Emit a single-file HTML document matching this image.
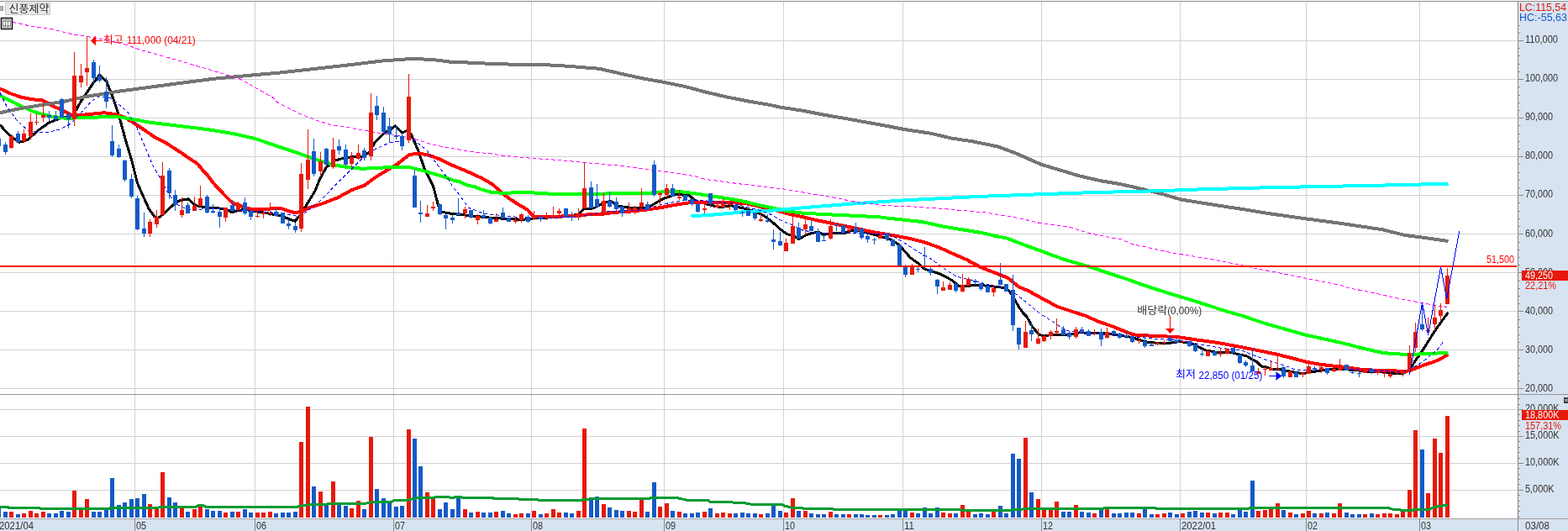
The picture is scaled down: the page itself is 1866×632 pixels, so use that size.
<!DOCTYPE html>
<html lang="ko"><head><meta charset="utf-8"><title>신풍제약 chart</title>
<style>html,body{margin:0;padding:0;background:#fff;overflow:hidden}svg text{font-family:"Liberation Sans","Noto Sans CJK KR",sans-serif}</style>
</head><body>
<svg width="1866" height="632" viewBox="0 0 1866 632" style="display:block;will-change:transform">
<rect width="1866" height="632" fill="#ffffff"/>
<path d="M0 462.5H1805M0 416.5H1805M0 370.5H1805M0 324.5H1805M0 278.5H1805M0 232.5H1805M0 186.5H1805M0 140.5H1805M0 94.5H1805M0 48.5H1805M0 583.5H1805M0 551.5H1805M0 519.5H1805M0 487.5H1805M160.5 2V617M303.5 2V617M468.5 2V617M632.5 2V617M790.5 2V617M932.5 2V617M1074.5 2V617M1239.5 2V617M1404.5 2V617M1554.5 2V617M1689.5 2V617" stroke="#d2d2d2" stroke-width="1" fill="none" shape-rendering="crispEdges"/>
<rect x="1807" y="2" width="59" height="630" fill="#d8e3f1"/>
<rect x="0" y="618" width="1866" height="14" fill="#d8e3f1"/>
<rect x="0" y="1" width="1866" height="1" fill="#8e8e8e"/>
<rect x="0" y="469" width="1866" height="1" fill="#969696"/>
<rect x="0" y="617" width="1866" height="1" fill="#a2a2a2"/>
<rect x="1806" y="2" width="1" height="630" fill="#888888"/>
<path d="M1807 462.5h6M1807 453.5h2M1807 444.5h2M1807 435.5h2M1807 426.5h2M1807 416.5h6M1807 407.5h2M1807 398.5h2M1807 389.5h2M1807 380.5h2M1807 370.5h6M1807 361.5h2M1807 352.5h2M1807 343.5h2M1807 334.5h2M1807 324.5h6M1807 315.5h2M1807 306.5h2M1807 297.5h2M1807 288.5h2M1807 278.5h6M1807 269.5h2M1807 260.5h2M1807 251.5h2M1807 241.5h2M1807 232.5h6M1807 223.5h2M1807 214.5h2M1807 205.5h2M1807 195.5h2M1807 186.5h6M1807 177.5h2M1807 168.5h2M1807 159.5h2M1807 149.5h2M1807 140.5h6M1807 131.5h2M1807 122.5h2M1807 113.5h2M1807 103.5h2M1807 94.5h6M1807 85.5h2M1807 76.5h2M1807 66.5h2M1807 57.5h2M1807 48.5h6M1807 39.5h2M1807 30.5h2M1807 615.5h2M1807 608.5h2M1807 602.5h2M1807 596.5h2M1807 589.5h2M1807 583.5h6M1807 576.5h2M1807 570.5h2M1807 564.5h2M1807 557.5h2M1807 551.5h6M1807 545.5h2M1807 538.5h2M1807 532.5h2M1807 525.5h2M1807 519.5h6M1807 513.5h2M1807 506.5h2M1807 500.5h2M1807 493.5h2M1807 487.5h6M1807 481.5h2M1807 474.5h2M160.5 617V632M303.5 617V632M468.5 617V632M632.5 617V632M790.5 617V632M932.5 617V632M1074.5 617V632M1239.5 617V632M1404.5 617V632M1554.5 617V632M1689.5 617V632" stroke="#888888" stroke-width="1" fill="none" shape-rendering="crispEdges"/>
<g shape-rendering="crispEdges">
<polyline points="0.0,148.6 10.1,160.0 22.8,169.4 32.9,166.4 45.6,155.0 58.2,146.1 70.9,141.0 83.6,138.5 88.6,134.7 96.2,120.8 108.9,101.8 118.5,89.1 126.6,96.7 134.2,115.7 141.8,138.5 149.4,166.4 157.0,191.7 163.7,218.4 170.4,233.5 177.2,248.6 183.9,257.9 188.1,259.5 193.9,255.3 207.3,242.8 214.1,238.6 224.1,236.9 232.5,244.4 242.6,246.6 259.3,247.8 267.7,249.0 276.1,252.8 284.5,250.3 292.9,249.5 301.3,251.2 318.0,253.7 334.8,257.0 343.2,260.4 350.8,263.4 356.6,257.0 365.0,243.6 375.1,226.8 380.3,213.9 387.7,200.0 397.1,191.6 409.5,187.9 422.2,186.4 432.5,186.0 439.5,181.0 446.5,168.8 455.8,159.5 464.2,154.4 470.5,149.8 478.7,158.2 484.8,155.2 489.5,160.3 497.8,179.6 505.6,202.0 515.5,221.5 521.9,245.8 525.3,252.1 538.7,254.6 555.5,256.3 572.2,258.0 589.0,259.7 605.8,260.5 622.6,261.3 636.0,259.7 656.1,258.8 672.9,257.2 688.0,255.5 694.7,248.8 706.4,247.9 718.2,241.7 726.6,239.5 736.6,245.4 748.4,247.1 765.1,247.9 775.2,244.6 785.3,238.7 790.1,236.1 805.2,231.2 820.3,232.9 828.7,239.4 845.5,244.2 857.2,246.6 870.6,244.8 884.1,247.8 897.5,251.5 909.2,256.8 917.6,262.9 927.7,272.1 936.1,278.6 944.4,280.2 950.3,284.7 957.9,280.5 965.5,277.5 974.6,276.3 979.7,279.2 991.4,277.5 1004.8,277.6 1013.2,274.6 1018.8,273.3 1027.0,275.9 1038.4,278.8 1048.0,281.3 1061.2,285.5 1070.5,292.0 1083.5,306.9 1092.2,313.0 1100.0,320.0 1108.7,322.8 1119.8,326.5 1132.0,333.0 1142.0,340.8 1150.6,340.4 1162.3,339.3 1177.5,340.4 1187.0,341.5 1195.0,342.5 1201.0,346.3 1206.5,354.5 1212.5,365.5 1217.6,372.5 1221.9,376.9 1228.3,388.5 1236.1,397.9 1240.3,399.5 1257.1,398.4 1270.7,398.2 1285.0,395.8 1300.0,396.4 1315.8,397.0 1329.5,398.6 1347.3,401.5 1362.8,406.8 1378.4,408.5 1391.3,408.4 1402.0,406.8 1411.4,407.1 1418.0,408.8 1424.8,412.1 1434.8,416.9 1448.3,419.4 1465.0,419.5 1477.2,422.5 1483.4,423.6 1489.5,427.5 1495.2,430.3 1501.6,436.4 1506.9,437.0 1514.0,439.5 1524.5,440.0 1539.5,443.0 1550.5,444.6 1561.5,442.6 1579.4,440.0 1597.9,439.0 1609.2,440.7 1617.8,441.0 1629.3,442.4 1643.1,442.8 1654.5,444.1 1671.0,444.1 1678.0,440.0 1683.7,430.2 1691.6,419.1 1699.6,406.5 1707.5,393.8 1715.4,382.7 1723.5,372.0" fill="none" stroke="#000000" stroke-width="3" stroke-linejoin="round"/>
<polyline points="0.0,105.6 12.7,111.4 25.3,115.7 38.0,118.2 50.6,119.5 63.3,126.3 76.0,132.2 86.1,137.2 101.3,136.5 114.0,135.2 124.1,134.2 136.7,136.0 146.9,139.0 157.0,144.8 172.2,155.0 184.9,163.8 197.5,170.2 215.2,181.5 227.9,190.4 234.8,194.6 240.6,201.8 247.0,208.5 254.3,218.4 267.7,232.7 276.1,241.1 284.5,244.4 292.9,247.8 301.3,249.1 318.0,248.6 334.8,248.1 343.2,251.2 351.6,253.3 360.0,251.2 368.4,247.0 385.1,241.9 401.9,235.2 418.9,226.0 434.0,220.6 447.4,210.6 460.8,202.4 472.6,195.6 481.0,188.8 487.2,184.0 497.2,182.8 508.2,184.0 522.2,189.0 539.0,197.0 556.0,204.1 572.7,211.7 586.0,219.3 597.4,229.5 605.8,236.2 617.5,243.7 627.6,249.6 635.1,258.0 649.0,258.0 664.5,257.7 681.3,256.9 698.0,255.5 714.8,255.0 731.6,252.8 748.4,251.8 765.1,250.1 777.0,248.5 786.8,247.0 803.5,243.8 820.3,241.3 837.1,240.7 853.9,240.8 870.6,241.1 887.4,242.0 904.2,246.0 921.0,249.5 937.7,254.5 954.5,258.0 971.3,262.1 988.0,265.4 1004.8,268.9 1021.6,272.5 1038.4,276.1 1055.1,278.8 1066.8,280.9 1083.5,284.1 1100.3,288.4 1117.1,294.3 1133.9,301.9 1150.6,309.2 1167.4,318.3 1184.2,324.7 1199.5,330.8 1212.7,341.6 1223.5,346.0 1237.0,353.5 1258.0,364.8 1273.9,370.2 1291.0,375.5 1307.4,382.8 1324.2,388.6 1341.0,395.4 1349.3,398.4 1374.5,400.0 1399.7,400.9 1424.8,404.6 1441.6,406.8 1458.4,409.6 1475.1,412.7 1489.0,415.5 1503.7,418.5 1520.3,421.9 1537.1,426.1 1553.9,430.6 1570.6,433.7 1587.4,435.7 1604.5,437.6 1621.0,440.0 1637.7,440.7 1654.5,441.2 1671.0,441.9 1678.0,441.2 1688.0,437.0 1696.0,434.0 1704.8,431.2 1713.2,427.8 1723.5,421.7" fill="none" stroke="#ff0000" stroke-width="4" stroke-linejoin="round"/>
<polyline points="0.0,113.7 12.7,120.0 25.3,126.3 38.0,132.2 50.6,136.0 63.3,139.0 76.0,140.5 88.6,140.5 114.0,139.8 126.6,138.5 141.8,139.3 152.0,141.0 164.6,143.1 177.3,145.6 202.6,148.6 227.9,151.7 253.2,155.0 278.6,159.3 303.9,165.1 330.0,174.0 346.8,179.5 363.5,185.4 380.3,191.0 397.1,196.2 413.9,199.2 430.6,200.7 447.4,200.2 464.2,198.9 480.0,199.1 486.0,198.7 497.9,201.8 505.2,203.5 514.5,206.4 521.9,208.5 531.3,211.4 538.7,214.4 548.0,216.6 555.5,220.3 564.8,222.3 572.2,225.3 584.0,228.6 597.4,229.8 622.6,229.1 632.6,229.2 647.7,230.4 681.3,231.3 714.8,230.6 748.4,230.1 770.0,230.0 786.8,228.5 803.5,227.5 820.3,229.4 837.1,231.9 853.9,234.4 870.6,236.9 887.4,240.3 904.2,244.3 921.0,247.8 937.7,251.5 954.5,253.6 988.0,255.4 1021.6,257.0 1046.6,258.3 1055.1,259.5 1082.0,262.4 1097.3,264.0 1122.1,269.5 1150.6,274.2 1173.2,278.0 1184.2,280.9 1197.6,283.4 1217.7,291.0 1239.5,299.0 1268.0,309.4 1293.2,316.5 1318.4,324.8 1343.5,333.0 1362.0,339.8 1391.3,349.2 1424.8,359.3 1458.4,370.2 1478.6,375.9 1502.0,383.9 1520.3,389.2 1553.9,398.7 1587.4,406.0 1605.2,410.2 1621.0,414.4 1646.1,420.1 1671.3,421.9 1696.4,421.3 1707.5,420.7 1723.5,419.5" fill="none" stroke="#00ff00" stroke-width="4" stroke-linejoin="round"/>
<polyline points="0.0,134.2 25.3,128.9 50.6,124.8 76.0,120.8 101.3,115.2 121.5,111.9 141.8,108.6 160.8,106.1 202.6,100.5 253.2,93.9 303.9,89.1 330.0,86.8 354.5,84.1 405.2,78.5 455.8,72.4 460.0,72.2 475.2,70.9 492.9,69.9 515.7,71.1 536.0,73.7 561.3,74.7 586.6,76.0 611.9,76.7 649.9,77.2 675.2,78.7 713.2,81.8 738.6,87.6 763.9,93.2 789.2,97.7 814.5,102.8 839.8,109.6 865.2,115.5 890.5,120.5 915.8,124.8 930.0,127.9 955.3,131.7 980.6,136.7 1006.0,141.0 1031.3,145.6 1056.6,150.1 1074.3,153.7 1107.3,158.7 1132.6,164.6 1157.9,168.4 1188.3,174.7 1208.6,182.3 1238.9,195.7 1259.2,201.8 1284.5,209.4 1309.8,215.2 1335.2,219.5 1360.5,225.3 1385.8,231.7 1405.3,237.5 1443.3,243.6 1481.3,249.4 1511.7,254.4 1557.3,260.8 1595.2,265.8 1620.6,269.6 1645.9,273.4 1671.2,279.8 1696.5,283.1 1723.5,287.0" fill="none" stroke="#747474" stroke-width="4" stroke-linejoin="round"/>
<polyline points="822.5,257.4 853.9,255.2 887.4,252.0 920.0,250.5 932.4,249.2 970.6,246.0 1021.3,242.0 1074.3,238.5 1122.6,236.0 1173.2,233.6 1238.9,231.2 1299.8,229.1 1380.0,227.2 1430.6,225.3 1506.6,223.3 1582.6,221.8 1658.5,220.3 1723.5,218.7" fill="none" stroke="#00ffff" stroke-width="4" stroke-linejoin="round"/>
<polyline points="15.0,26.3 34.2,30.6 63.3,35.0 88.6,41.4 103.8,43.3 126.6,47.7 146.8,52.2 166.5,59.2 190.0,65.8 215.2,72.8 235.0,78.7 240.6,80.3 265.9,87.9 286.2,94.2 303.9,104.3 324.1,115.7 330.0,121.7 344.4,129.4 361.5,137.6 380.0,144.4 397.1,149.4 409.5,150.9 430.5,154.7 447.4,157.7 460.0,159.2 467.0,160.1 491.0,164.7 514.5,172.0 533.5,176.0 561.8,180.6 586.6,183.2 597.9,185.2 635.0,188.5 664.5,190.4 691.3,193.0 731.6,196.8 738.6,197.1 765.1,201.0 787.1,203.7 808.6,206.7 827.2,209.8 838.5,213.2 870.6,217.6 877.8,218.6 904.2,221.5 924.6,224.4 932.5,224.9 956.2,229.1 990.0,234.6 1013.2,239.4 1021.3,240.9 1046.8,243.9 1073.0,246.0 1082.0,245.6 1122.6,248.5 1173.2,253.0 1211.2,259.4 1239.8,266.0 1272.9,270.4 1297.5,278.0 1325.2,283.4 1335.1,285.1 1348.4,291.0 1362.0,293.5 1382.5,298.3 1390.0,299.9 1402.6,302.2 1443.3,308.9 1481.3,316.5 1496.3,320.0 1519.3,324.1 1529.2,326.3 1555.9,331.5 1579.8,336.5 1595.2,339.3 1605.2,342.8 1631.8,348.0 1657.0,353.7 1670.0,356.7 1689.5,359.9 1707.5,363.4 1721.7,365.3" fill="none" stroke="#ff00ff" stroke-width="1" stroke-linejoin="round" stroke-dasharray="4.5 3"/>
<polyline points="0.0,110.6 7.6,125.8 20.3,143.6 32.9,155.0 45.6,157.5 58.2,157.0 70.9,154.2 83.6,147.4 96.2,134.7 108.9,120.3 119.0,114.4 131.7,117.0 141.8,124.6 151.9,133.4 162.0,149.9 172.2,174.0 182.3,198.0 192.5,214.5 200.0,230.0 210.0,243.0 222.0,249.0 240.0,249.0 260.0,248.5 280.0,250.0 300.0,251.0 320.0,252.5 340.0,255.0 355.0,257.5 365.0,252.0 380.0,240.0 393.7,226.0 405.5,213.9 417.2,202.2 430.6,188.8 447.4,177.0 464.2,169.5 474.2,168.6 491.0,165.3 507.8,178.7 522.4,198.6 533.7,213.5 540.0,224.0 547.1,232.0 557.2,247.1 575.0,254.0 600.0,257.0 640.0,260.0 690.0,258.0 720.0,252.0 760.0,250.0 790.1,242.8 811.9,238.9 837.1,238.6 853.9,240.3 870.6,241.9 887.4,246.1 904.2,250.3 917.6,255.4 929.3,262.1 941.1,267.1 954.5,273.8 971.3,277.2 996.4,278.0 1021.6,277.2 1046.8,278.5 1060.1,279.6 1075.2,288.4 1091.9,299.4 1108.7,308.6 1122.1,318.6 1137.2,328.7 1150.6,332.1 1167.4,336.3 1184.2,341.3 1195.9,342.1 1211.0,351.3 1225.3,363.0 1238.0,373.6 1255.7,384.6 1268.4,393.4 1283.6,396.0 1310.0,398.0 1351.9,401.0 1377.3,403.6 1402.6,404.8 1427.9,409.9 1453.2,414.2 1478.6,417.5 1491.2,422.6 1508.9,428.9 1529.2,435.2 1541.9,440.3 1559.6,441.0 1579.8,439.0 1605.2,439.0 1630.5,441.0 1670.0,442.6 1680.6,438.1 1691.6,431.8 1701.1,423.9 1710.6,415.9 1719.3,404.5" fill="none" stroke="#0000ff" stroke-width="1" stroke-linejoin="round" stroke-dasharray="4 3"/>
</g>
<path d="M11 162h5V176h-5ZM13 160h1V162h-1ZM13 176h1V177h-1ZM26 159h5V168h-5ZM28 154h1V159h-1ZM28 168h1V170h-1ZM34 145h5V162h-5ZM36 135h1V145h-1ZM36 162h1V166h-1ZM41 145h5V146h-5ZM43 135h1V145h-1ZM43 146h1V149h-1ZM49 137h5V140h-5ZM51 122h1V137h-1ZM51 140h1V145h-1ZM86 90h5V142h-5ZM88 62h1V90h-1ZM88 142h1V150h-1ZM94 90h5V98h-5ZM96 76h1V90h-1ZM96 98h1V104h-1ZM101 81h5V86h-5ZM103 43h1V81h-1ZM103 86h1V102h-1ZM176 264h5V278h-5ZM178 261h1V264h-1ZM178 278h1V282h-1ZM184 258h5V267h-5ZM186 250h1V258h-1ZM186 267h1V271h-1ZM191 209h5V256h-5ZM193 193h1V209h-1ZM214 250h5V256h-5ZM216 235h1V250h-1ZM216 256h1V259h-1ZM229 245h5V251h-5ZM231 234h1V245h-1ZM236 236h5V245h-5ZM238 221h1V236h-1ZM266 247h5V259h-5ZM268 259h1V264h-1ZM281 242h5V250h-5ZM283 240h1V242h-1ZM304 257h5V258h-5ZM306 251h1V257h-1ZM306 258h1V259h-1ZM311 253h5V255h-5ZM313 249h1V253h-1ZM313 255h1V260h-1ZM319 253h5V254h-5ZM321 241h1V253h-1ZM321 254h1V257h-1ZM356 207h5V272h-5ZM358 194h1V207h-1ZM358 272h1V276h-1ZM364 190h5V214h-5ZM366 154h1V190h-1ZM366 214h1V225h-1ZM379 192h5V204h-5ZM381 181h1V192h-1ZM381 204h1V210h-1ZM394 178h5V199h-5ZM396 164h1V178h-1ZM396 199h1V201h-1ZM416 187h5V195h-5ZM418 181h1V187h-1ZM418 195h1V199h-1ZM424 182h5V189h-5ZM426 172h1V182h-1ZM426 189h1V190h-1ZM439 134h5V186h-5ZM441 111h1V134h-1ZM441 186h1V191h-1ZM484 115h5V167h-5ZM486 88h1V115h-1ZM486 167h1V170h-1ZM506 254h5V258h-5ZM508 244h1V254h-1ZM513 246h5V248h-5ZM515 240h1V246h-1ZM515 248h1V251h-1ZM551 249h5V254h-5ZM553 246h1V249h-1ZM553 254h1V260h-1ZM566 257h5V262h-5ZM568 255h1V257h-1ZM568 262h1V267h-1ZM588 261h5V264h-5ZM590 254h1V261h-1ZM611 262h5V264h-5ZM613 258h1V262h-1ZM613 264h1V266h-1ZM618 255h5V262h-5ZM620 254h1V255h-1ZM620 262h1V265h-1ZM633 257h5V260h-5ZM635 251h1V257h-1ZM635 260h1V262h-1ZM648 258h5V260h-5ZM650 253h1V258h-1ZM650 260h1V262h-1ZM656 256h5V259h-5ZM658 246h1V256h-1ZM658 259h1V260h-1ZM663 251h5V254h-5ZM665 248h1V251h-1ZM665 254h1V256h-1ZM686 256h5V259h-5ZM688 248h1V256h-1ZM688 259h1V262h-1ZM693 224h5V248h-5ZM695 193h1V224h-1ZM716 239h5V255h-5ZM718 229h1V239h-1ZM746 248h5V253h-5ZM748 241h1V248h-1ZM753 247h5V250h-5ZM755 245h1V247h-1ZM755 250h1V255h-1ZM761 241h5V246h-5ZM763 224h1V241h-1ZM763 246h1V248h-1ZM783 230h5V232h-5ZM785 229h1V230h-1ZM785 232h1V245h-1ZM791 224h5V232h-5ZM793 219h1V224h-1ZM793 232h1V236h-1ZM806 234h5V236h-5ZM808 226h1V234h-1ZM808 236h1V238h-1ZM836 248h5V250h-5ZM838 242h1V248h-1ZM838 250h1V254h-1ZM851 244h5V247h-5ZM853 239h1V244h-1ZM858 242h5V247h-5ZM860 236h1V242h-1ZM866 243h5V244h-5ZM868 241h1V243h-1ZM868 244h1V250h-1ZM903 261h5V263h-5ZM905 253h1V261h-1ZM905 263h1V264h-1ZM933 289h5V299h-5ZM935 284h1V289h-1ZM941 269h5V290h-5ZM943 253h1V269h-1ZM956 267h5V273h-5ZM958 260h1V267h-1ZM958 273h1V280h-1ZM986 269h5V284h-5ZM988 261h1V269h-1ZM988 284h1V285h-1ZM1008 273h5V275h-5ZM1010 272h1V273h-1ZM1010 275h1V278h-1ZM1045 280h5V284h-5ZM1083 318h5V327h-5ZM1085 314h1V318h-1ZM1120 342h5V346h-5ZM1122 335h1V342h-1ZM1128 339h5V345h-5ZM1130 336h1V339h-1ZM1143 339h5V347h-5ZM1145 326h1V339h-1ZM1145 347h1V348h-1ZM1150 332h5V340h-5ZM1152 330h1V332h-1ZM1180 343h5V348h-5ZM1182 339h1V343h-1ZM1182 348h1V353h-1ZM1218 395h5V414h-5ZM1220 382h1V395h-1ZM1233 403h5V409h-5ZM1235 391h1V403h-1ZM1235 409h1V410h-1ZM1240 400h5V406h-5ZM1242 398h1V400h-1ZM1242 406h1V407h-1ZM1248 395h5V400h-5ZM1250 393h1V395h-1ZM1250 400h1V404h-1ZM1255 394h5V396h-5ZM1257 379h1V394h-1ZM1257 396h1V398h-1ZM1278 392h5V401h-5ZM1280 389h1V392h-1ZM1280 401h1V403h-1ZM1300 397h5V398h-5ZM1302 392h1V397h-1ZM1302 398h1V399h-1ZM1315 395h5V402h-5ZM1317 390h1V395h-1ZM1317 402h1V403h-1ZM1353 405h5V406h-5ZM1355 403h1V405h-1ZM1355 406h1V409h-1ZM1375 408h5V410h-5ZM1377 407h1V408h-1ZM1377 410h1V411h-1ZM1383 407h5V408h-5ZM1385 405h1V407h-1ZM1385 408h1V411h-1ZM1405 406h5V407h-5ZM1407 405h1V406h-1ZM1407 407h1V409h-1ZM1435 418h5V424h-5ZM1437 416h1V418h-1ZM1450 420h5V422h-5ZM1452 414h1V420h-1ZM1452 422h1V425h-1ZM1458 415h5V421h-5ZM1460 414h1V415h-1ZM1460 421h1V422h-1ZM1495 442h5V445h-5ZM1497 438h1V442h-1ZM1503 439h5V440h-5ZM1505 437h1V439h-1ZM1505 440h1V447h-1ZM1510 438h5V441h-5ZM1512 430h1V438h-1ZM1518 439h5V440h-5ZM1520 424h1V439h-1ZM1533 442h5V449h-5ZM1548 444h5V446h-5ZM1550 443h1V444h-1ZM1550 446h1V449h-1ZM1555 436h5V445h-5ZM1557 433h1V436h-1ZM1570 437h5V440h-5ZM1572 436h1V437h-1ZM1572 440h1V444h-1ZM1585 439h5V442h-5ZM1587 438h1V439h-1ZM1587 442h1V443h-1ZM1592 434h5V441h-5ZM1594 427h1V434h-1ZM1622 440h5V444h-5ZM1624 439h1V440h-1ZM1637 442h5V444h-5ZM1639 441h1V442h-1ZM1639 444h1V446h-1ZM1645 444h5V445h-5ZM1647 442h1V444h-1ZM1647 445h1V449h-1ZM1652 445h5V448h-5ZM1654 442h1V445h-1ZM1654 448h1V450h-1ZM1660 443h5V444h-5ZM1662 442h1V443h-1ZM1662 444h1V446h-1ZM1667 442h5V445h-5ZM1669 441h1V442h-1ZM1669 445h1V448h-1ZM1675 420h5V442h-5ZM1677 411h1V420h-1ZM1677 442h1V446h-1ZM1682 395h5V414h-5ZM1684 384h1V395h-1ZM1684 414h1V419h-1ZM1697 393h5V394h-5ZM1699 378h1V393h-1ZM1699 394h1V399h-1ZM1705 378h5V386h-5ZM1707 363h1V378h-1ZM1707 386h1V393h-1ZM1712 369h5V376h-5ZM1714 361h1V369h-1ZM1714 376h1V382h-1ZM1720 328h5V362h-5ZM1722 319h1V328h-1ZM11 609h5V616h-5ZM26 611h5V616h-5ZM34 608h5V616h-5ZM41 611h5V616h-5ZM49 609h5V616h-5ZM86 584h5V616h-5ZM94 605h5V616h-5ZM101 594h5V616h-5ZM176 600h5V616h-5ZM184 605h5V616h-5ZM191 562h5V616h-5ZM214 604h5V616h-5ZM229 606h5V616h-5ZM236 603h5V616h-5ZM266 610h5V616h-5ZM281 609h5V616h-5ZM304 610h5V616h-5ZM311 610h5V616h-5ZM319 609h5V616h-5ZM356 526h5V616h-5ZM364 484h5V616h-5ZM379 585h5V616h-5ZM394 573h5V616h-5ZM416 605h5V616h-5ZM424 596h5V616h-5ZM439 520h5V616h-5ZM484 511h5V616h-5ZM506 586h5V616h-5ZM513 594h5V616h-5ZM551 606h5V616h-5ZM566 609h5V616h-5ZM588 609h5V616h-5ZM611 612h5V616h-5ZM618 611h5V616h-5ZM633 608h5V616h-5ZM648 611h5V616h-5ZM656 606h5V616h-5ZM663 610h5V616h-5ZM686 608h5V616h-5ZM693 510h5V616h-5ZM716 600h5V616h-5ZM746 608h5V616h-5ZM753 609h5V616h-5ZM761 595h5V616h-5ZM783 603h5V616h-5ZM791 599h5V616h-5ZM806 609h5V616h-5ZM836 609h5V616h-5ZM851 611h5V616h-5ZM858 610h5V616h-5ZM866 611h5V616h-5ZM903 612h5V616h-5ZM933 610h5V616h-5ZM941 593h5V616h-5ZM956 608h5V616h-5ZM986 609h5V616h-5ZM1008 612h5V616h-5ZM1045 613h5V616h-5ZM1083 610h5V616h-5ZM1120 610h5V616h-5ZM1128 611h5V616h-5ZM1143 601h5V616h-5ZM1150 609h5V616h-5ZM1180 609h5V616h-5ZM1218 521h5V616h-5ZM1233 594h5V616h-5ZM1240 606h5V616h-5ZM1248 606h5V616h-5ZM1255 597h5V616h-5ZM1278 601h5V616h-5ZM1300 611h5V616h-5ZM1315 606h5V616h-5ZM1353 611h5V616h-5ZM1375 612h5V616h-5ZM1383 611h5V616h-5ZM1405 611h5V616h-5ZM1435 610h5V616h-5ZM1450 610h5V616h-5ZM1458 610h5V616h-5ZM1495 608h5V616h-5ZM1503 607h5V616h-5ZM1510 606h5V616h-5ZM1518 599h5V616h-5ZM1533 610h5V616h-5ZM1548 611h5V616h-5ZM1555 608h5V616h-5ZM1570 611h5V616h-5ZM1585 611h5V616h-5ZM1592 599h5V616h-5ZM1622 612h5V616h-5ZM1637 612h5V616h-5ZM1645 611h5V616h-5ZM1652 611h5V616h-5ZM1660 612h5V616h-5ZM1667 609h5V616h-5ZM1675 583h5V616h-5ZM1682 512h5V616h-5ZM1697 587h5V616h-5ZM1705 522h5V616h-5ZM1712 539h5V616h-5ZM1720 495h5V616h-5Z" fill="#e6190a" shape-rendering="crispEdges"/>
<path d="M-4 165h5V174h-5ZM-2 174h1V175h-1ZM4 172h5V181h-5ZM6 169h1V172h-1ZM6 181h1V184h-1ZM19 159h5V169h-5ZM21 156h1V159h-1ZM21 169h1V170h-1ZM56 137h5V140h-5ZM58 132h1V137h-1ZM58 140h1V144h-1ZM64 138h5V142h-5ZM66 132h1V138h-1ZM66 142h1V144h-1ZM71 118h5V140h-5ZM73 117h1V118h-1ZM79 136h5V142h-5ZM81 134h1V136h-1ZM81 142h1V153h-1ZM109 74h5V93h-5ZM111 71h1V74h-1ZM111 93h1V100h-1ZM116 91h5V96h-5ZM118 78h1V91h-1ZM118 96h1V98h-1ZM124 109h5V121h-5ZM126 92h1V109h-1ZM126 121h1V129h-1ZM131 168h5V185h-5ZM133 149h1V168h-1ZM133 185h1V187h-1ZM139 177h5V187h-5ZM141 172h1V177h-1ZM141 187h1V188h-1ZM146 191h5V214h-5ZM148 190h1V191h-1ZM148 214h1V216h-1ZM154 213h5V234h-5ZM156 207h1V213h-1ZM156 234h1V236h-1ZM161 236h5V273h-5ZM163 233h1V236h-1ZM163 273h1V274h-1ZM169 272h5V278h-5ZM171 253h1V272h-1ZM171 278h1V282h-1ZM199 203h5V230h-5ZM201 200h1V203h-1ZM201 230h1V237h-1ZM206 232h5V244h-5ZM208 226h1V232h-1ZM208 244h1V251h-1ZM221 244h5V254h-5ZM223 241h1V244h-1ZM244 234h5V253h-5ZM246 232h1V234h-1ZM246 253h1V254h-1ZM251 251h5V253h-5ZM253 243h1V251h-1ZM253 253h1V254h-1ZM259 252h5V258h-5ZM261 249h1V252h-1ZM261 258h1V271h-1ZM274 244h5V251h-5ZM276 238h1V244h-1ZM276 251h1V252h-1ZM289 241h5V254h-5ZM291 235h1V241h-1ZM291 254h1V256h-1ZM296 251h5V258h-5ZM298 250h1V251h-1ZM298 258h1V262h-1ZM326 252h5V257h-5ZM328 248h1V252h-1ZM328 257h1V258h-1ZM334 253h5V266h-5ZM341 266h5V269h-5ZM343 261h1V266h-1ZM343 269h1V273h-1ZM349 269h5V274h-5ZM351 265h1V269h-1ZM351 274h1V277h-1ZM371 180h5V207h-5ZM373 165h1V180h-1ZM373 207h1V210h-1ZM386 177h5V196h-5ZM388 176h1V177h-1ZM388 196h1V197h-1ZM401 174h5V179h-5ZM403 166h1V174h-1ZM403 179h1V184h-1ZM409 178h5V196h-5ZM411 172h1V178h-1ZM411 196h1V198h-1ZM431 179h5V188h-5ZM433 176h1V179h-1ZM433 188h1V191h-1ZM446 126h5V137h-5ZM448 114h1V126h-1ZM448 137h1V143h-1ZM454 134h5V157h-5ZM456 127h1V134h-1ZM456 157h1V158h-1ZM461 150h5V160h-5ZM463 140h1V150h-1ZM463 160h1V170h-1ZM469 161h5V163h-5ZM471 149h1V161h-1ZM471 163h1V166h-1ZM476 162h5V174h-5ZM478 159h1V162h-1ZM478 174h1V179h-1ZM491 209h5V247h-5ZM493 202h1V209h-1ZM498 253h5V255h-5ZM500 239h1V253h-1ZM500 255h1V265h-1ZM521 243h5V255h-5ZM523 255h1V256h-1ZM528 256h5V260h-5ZM530 255h1V256h-1ZM530 260h1V273h-1ZM536 259h5V262h-5ZM538 256h1V259h-1ZM538 262h1V266h-1ZM543 253h5V256h-5ZM545 236h1V253h-1ZM558 250h5V259h-5ZM560 259h1V260h-1ZM573 256h5V259h-5ZM575 250h1V256h-1ZM575 259h1V260h-1ZM581 259h5V266h-5ZM583 258h1V259h-1ZM583 266h1V267h-1ZM596 253h5V260h-5ZM598 247h1V253h-1ZM603 259h5V264h-5ZM626 258h5V264h-5ZM628 256h1V258h-1ZM628 264h1V265h-1ZM641 258h5V261h-5ZM643 257h1V258h-1ZM643 261h1V264h-1ZM671 248h5V258h-5ZM673 258h1V259h-1ZM678 258h5V259h-5ZM680 252h1V258h-1ZM680 259h1V263h-1ZM701 223h5V248h-5ZM703 216h1V223h-1ZM708 237h5V246h-5ZM710 219h1V237h-1ZM710 246h1V247h-1ZM723 239h5V246h-5ZM725 228h1V239h-1ZM725 246h1V247h-1ZM731 240h5V249h-5ZM733 235h1V240h-1ZM733 249h1V251h-1ZM738 246h5V254h-5ZM740 245h1V246h-1ZM740 254h1V258h-1ZM768 243h5V250h-5ZM770 240h1V243h-1ZM776 196h5V232h-5ZM778 191h1V196h-1ZM778 232h1V234h-1ZM798 224h5V234h-5ZM800 219h1V224h-1ZM813 232h5V239h-5ZM821 237h5V243h-5ZM823 236h1V237h-1ZM823 243h1V245h-1ZM828 243h5V252h-5ZM830 241h1V243h-1ZM830 252h1V253h-1ZM843 230h5V243h-5ZM845 243h1V247h-1ZM873 244h5V250h-5ZM875 250h1V251h-1ZM881 253h5V254h-5ZM883 251h1V253h-1ZM883 254h1V258h-1ZM888 251h5V257h-5ZM890 250h1V251h-1ZM896 253h5V260h-5ZM898 260h1V262h-1ZM911 262h5V264h-5ZM913 255h1V262h-1ZM913 264h1V265h-1ZM918 285h5V288h-5ZM920 273h1V285h-1ZM920 288h1V297h-1ZM926 287h5V292h-5ZM928 276h1V287h-1ZM928 292h1V293h-1ZM948 271h5V284h-5ZM950 265h1V271h-1ZM963 269h5V275h-5ZM965 262h1V269h-1ZM971 276h5V288h-5ZM973 272h1V276h-1ZM978 280h5V281h-5ZM980 281h1V287h-1ZM978 286h5v1h-5ZM993 267h5V268h-5ZM995 265h1V267h-1ZM995 268h1V275h-1ZM1001 268h5V277h-5ZM1003 277h1V278h-1ZM1016 271h5V277h-5ZM1018 265h1V271h-1ZM1023 272h5V283h-5ZM1025 283h1V285h-1ZM1030 281h5V285h-5ZM1032 278h1V281h-1ZM1032 285h1V289h-1ZM1038 285h5V286h-5ZM1040 283h1V285h-1ZM1040 286h1V291h-1ZM1053 278h5V285h-5ZM1055 277h1V278h-1ZM1055 285h1V287h-1ZM1060 285h5V293h-5ZM1068 291h5V316h-5ZM1075 318h5V327h-5ZM1077 315h1V318h-1ZM1077 327h1V330h-1ZM1090 320h5V321h-5ZM1092 318h1V320h-1ZM1092 321h1V324h-1ZM1098 304h5V305h-5ZM1100 294h1V304h-1ZM1100 305h1V320h-1ZM1105 320h5V325h-5ZM1107 318h1V320h-1ZM1107 325h1V328h-1ZM1113 333h5V341h-5ZM1115 332h1V333h-1ZM1115 341h1V350h-1ZM1135 338h5V346h-5ZM1137 336h1V338h-1ZM1137 346h1V348h-1ZM1158 334h5V336h-5ZM1160 332h1V334h-1ZM1160 336h1V339h-1ZM1165 337h5V344h-5ZM1167 344h1V346h-1ZM1173 340h5V348h-5ZM1188 333h5V339h-5ZM1190 313h1V333h-1ZM1195 338h5V347h-5ZM1203 345h5V387h-5ZM1205 327h1V345h-1ZM1205 387h1V394h-1ZM1210 390h5V410h-5ZM1212 410h1V416h-1ZM1225 393h5V398h-5ZM1227 383h1V393h-1ZM1227 398h1V406h-1ZM1263 392h5V399h-5ZM1265 388h1V392h-1ZM1270 396h5V401h-5ZM1272 395h1V396h-1ZM1272 401h1V404h-1ZM1285 392h5V396h-5ZM1287 389h1V392h-1ZM1293 394h5V400h-5ZM1295 392h1V394h-1ZM1308 395h5V404h-5ZM1310 391h1V395h-1ZM1310 404h1V412h-1ZM1323 394h5V398h-5ZM1325 393h1V394h-1ZM1330 397h5V402h-5ZM1332 396h1V397h-1ZM1332 402h1V403h-1ZM1338 399h5V401h-5ZM1340 394h1V399h-1ZM1340 401h1V403h-1ZM1345 400h5V407h-5ZM1347 407h1V408h-1ZM1360 406h5V412h-5ZM1362 398h1V406h-1ZM1362 412h1V414h-1ZM1368 410h5V412h-5ZM1370 408h1V410h-1ZM1390 402h5V406h-5ZM1392 399h1V402h-1ZM1392 406h1V407h-1ZM1398 405h5V408h-5ZM1400 403h1V405h-1ZM1400 408h1V409h-1ZM1413 406h5V412h-5ZM1415 405h1V406h-1ZM1415 412h1V413h-1ZM1420 410h5V418h-5ZM1422 418h1V419h-1ZM1428 421h5V422h-5ZM1430 415h1V421h-1ZM1430 422h1V424h-1ZM1443 418h5V423h-5ZM1445 423h1V424h-1ZM1465 414h5V420h-5ZM1467 420h1V421h-1ZM1473 422h5V432h-5ZM1475 432h1V433h-1ZM1480 431h5V435h-5ZM1482 429h1V431h-1ZM1482 435h1V437h-1ZM1488 435h5V442h-5ZM1490 414h1V435h-1ZM1525 437h5V448h-5ZM1527 436h1V437h-1ZM1527 448h1V450h-1ZM1540 443h5V449h-5ZM1542 442h1V443h-1ZM1562 438h5V440h-5ZM1564 436h1V438h-1ZM1564 440h1V441h-1ZM1577 438h5V444h-5ZM1579 444h1V446h-1ZM1600 434h5V441h-5ZM1607 443h5V444h-5ZM1609 441h1V443h-1ZM1609 444h1V445h-1ZM1615 444h5V445h-5ZM1617 442h1V444h-1ZM1617 445h1V449h-1ZM1630 439h5V443h-5ZM1632 438h1V439h-1ZM1632 443h1V445h-1ZM1690 386h5V392h-5ZM1692 360h1V386h-1ZM1692 392h1V394h-1ZM-4 604h5V616h-5ZM4 609h5V616h-5ZM19 612h5V616h-5ZM56 611h5V616h-5ZM64 611h5V616h-5ZM71 608h5V616h-5ZM79 609h5V616h-5ZM109 609h5V616h-5ZM116 609h5V616h-5ZM124 606h5V616h-5ZM131 569h5V616h-5ZM139 601h5V616h-5ZM146 598h5V616h-5ZM154 594h5V616h-5ZM161 593h5V616h-5ZM169 588h5V616h-5ZM199 592h5V616h-5ZM206 598h5V616h-5ZM221 609h5V616h-5ZM244 606h5V616h-5ZM251 608h5V616h-5ZM259 608h5V616h-5ZM274 609h5V616h-5ZM289 606h5V616h-5ZM296 610h5V616h-5ZM326 611h5V616h-5ZM334 610h5V616h-5ZM341 610h5V616h-5ZM349 609h5V616h-5ZM371 579h5V616h-5ZM386 601h5V616h-5ZM401 601h5V616h-5ZM409 602h5V616h-5ZM431 606h5V616h-5ZM446 582h5V616h-5ZM454 593h5V616h-5ZM461 599h5V616h-5ZM469 603h5V616h-5ZM476 602h5V616h-5ZM491 522h5V616h-5ZM498 555h5V616h-5ZM521 606h5V616h-5ZM528 598h5V616h-5ZM536 606h5V616h-5ZM543 592h5V616h-5ZM558 610h5V616h-5ZM573 610h5V616h-5ZM581 610h5V616h-5ZM596 608h5V616h-5ZM603 611h5V616h-5ZM626 611h5V616h-5ZM641 612h5V616h-5ZM671 610h5V616h-5ZM678 611h5V616h-5ZM701 592h5V616h-5ZM708 591h5V616h-5ZM723 604h5V616h-5ZM731 607h5V616h-5ZM738 608h5V616h-5ZM768 609h5V616h-5ZM776 574h5V616h-5ZM798 608h5V616h-5ZM813 611h5V616h-5ZM821 611h5V616h-5ZM828 610h5V616h-5ZM843 605h5V616h-5ZM873 611h5V616h-5ZM881 610h5V616h-5ZM888 611h5V616h-5ZM896 611h5V616h-5ZM911 611h5V616h-5ZM918 601h5V616h-5ZM926 608h5V616h-5ZM948 608h5V616h-5ZM963 611h5V616h-5ZM971 612h5V616h-5ZM978 612h5V616h-5ZM993 612h5V616h-5ZM1001 612h5V616h-5ZM1016 612h5V616h-5ZM1023 612h5V616h-5ZM1030 613h5V616h-5ZM1038 613h5V616h-5ZM1053 613h5V616h-5ZM1060 612h5V616h-5ZM1068 606h5V616h-5ZM1075 606h5V616h-5ZM1090 611h5V616h-5ZM1098 604h5V616h-5ZM1105 611h5V616h-5ZM1113 604h5V616h-5ZM1135 611h5V616h-5ZM1158 612h5V616h-5ZM1165 611h5V616h-5ZM1173 612h5V616h-5ZM1188 602h5V616h-5ZM1195 611h5V616h-5ZM1203 540h5V616h-5ZM1210 546h5V616h-5ZM1225 586h5V616h-5ZM1263 609h5V616h-5ZM1270 609h5V616h-5ZM1285 609h5V616h-5ZM1293 610h5V616h-5ZM1308 606h5V616h-5ZM1323 611h5V616h-5ZM1330 611h5V616h-5ZM1338 610h5V616h-5ZM1345 610h5V616h-5ZM1360 606h5V616h-5ZM1368 612h5V616h-5ZM1390 610h5V616h-5ZM1398 612h5V616h-5ZM1413 609h5V616h-5ZM1420 608h5V616h-5ZM1428 610h5V616h-5ZM1443 611h5V616h-5ZM1465 612h5V616h-5ZM1473 607h5V616h-5ZM1480 609h5V616h-5ZM1488 572h5V616h-5ZM1525 607h5V616h-5ZM1540 612h5V616h-5ZM1562 611h5V616h-5ZM1577 610h5V616h-5ZM1600 610h5V616h-5ZM1607 612h5V616h-5ZM1615 612h5V616h-5ZM1630 611h5V616h-5ZM1690 535h5V616h-5Z" fill="#145ac8" shape-rendering="crispEdges"/>
<polyline points="0.0,603.3 9.2,603.3 10.4,604.5 46.2,604.5 48.5,605.6 129.3,605.6 131.6,604.5 138.6,604.9 161.7,604.5 189.4,604.0 191.7,603.3 233.3,603.3 235.6,601.7 242.5,601.7 244.8,603.3 353.3,603.3 360.3,601.7 369.5,600.6 392.6,599.9 397.2,599.4 433.9,599.4 443.1,597.6 466.2,597.1 468.5,595.7 482.4,595.7 491.6,593.6 500.8,592.2 517.0,592.2 519.3,591.1 533.2,591.1 535.5,592.2 540.1,592.2 542.4,591.1 548.2,591.1 549.3,592.2 586.3,592.2 587.4,593.4 616.3,593.4 617.5,594.1 639.4,594.1 640.6,595.2 692.5,595.2 693.7,594.1 701.8,594.1 704.1,593.2 773.3,593.2 775.7,592.2 803.4,592.2 810.3,593.6 819.5,595.7 842.6,595.7 844.9,597.1 870.0,597.1 872.3,598.2 886.2,598.2 888.5,599.4 895.4,600.3 930.1,600.3 932.4,601.7 941.6,604.0 953.2,604.0 955.5,605.2 990.1,605.2 992.4,606.3 1140.2,606.3 1149.5,607.9 1200.3,607.9 1204.9,606.8 1214.1,606.8 1218.8,605.6 1313.1,605.6 1314.3,604.0 1373.2,604.0 1375.5,605.2 1486.3,605.2 1488.6,604.0 1650.3,604.0 1657.2,606.1 1664.2,606.1 1668.8,607.9 1678.0,607.9 1685.0,606.1 1700.8,606.1 1705.4,604.0 1714.7,602.2 1722.7,601.0" fill="none" stroke="#039b31" stroke-width="3" stroke-linejoin="round" shape-rendering="crispEdges"/>
<rect x="0" y="316" width="1805" height="2" fill="#ff0000" shape-rendering="crispEdges"/>
<polyline points="1677.5,445.7 1692.5,360.3 1699.6,398.6 1714.6,318.1 1721.7,355.5 1736.7,275.3" fill="none" stroke="#0000ff" stroke-width="1" stroke-linejoin="round" shape-rendering="crispEdges"/>
<g opacity="0.999">
<text x="1815" y="465.7" font-family="Liberation Sans, sans-serif" font-size="12.6" fill="#333333" text-anchor="start" textLength="33" lengthAdjust="spacingAndGlyphs">20,000</text>
<text x="1815" y="419.6" font-family="Liberation Sans, sans-serif" font-size="12.6" fill="#333333" text-anchor="start" textLength="33" lengthAdjust="spacingAndGlyphs">30,000</text>
<text x="1815" y="373.6" font-family="Liberation Sans, sans-serif" font-size="12.6" fill="#333333" text-anchor="start" textLength="33" lengthAdjust="spacingAndGlyphs">40,000</text>
<text x="1815" y="327.6" font-family="Liberation Sans, sans-serif" font-size="12.6" fill="#333333" text-anchor="start" textLength="33" lengthAdjust="spacingAndGlyphs">50,000</text>
<text x="1815" y="281.5" font-family="Liberation Sans, sans-serif" font-size="12.6" fill="#333333" text-anchor="start" textLength="33" lengthAdjust="spacingAndGlyphs">60,000</text>
<text x="1815" y="235.4" font-family="Liberation Sans, sans-serif" font-size="12.6" fill="#333333" text-anchor="start" textLength="33" lengthAdjust="spacingAndGlyphs">70,000</text>
<text x="1815" y="189.4" font-family="Liberation Sans, sans-serif" font-size="12.6" fill="#333333" text-anchor="start" textLength="33" lengthAdjust="spacingAndGlyphs">80,000</text>
<text x="1815" y="143.4" font-family="Liberation Sans, sans-serif" font-size="12.6" fill="#333333" text-anchor="start" textLength="33" lengthAdjust="spacingAndGlyphs">90,000</text>
<text x="1815" y="97.3" font-family="Liberation Sans, sans-serif" font-size="12.6" fill="#333333" text-anchor="start" textLength="39" lengthAdjust="spacingAndGlyphs">100,000</text>
<text x="1815" y="51.3" font-family="Liberation Sans, sans-serif" font-size="12.6" fill="#333333" text-anchor="start" textLength="39" lengthAdjust="spacingAndGlyphs">110,000</text>
<text x="1815" y="586.0" font-family="Liberation Sans, sans-serif" font-size="12.6" fill="#333333" text-anchor="start" textLength="34.5" lengthAdjust="spacingAndGlyphs">5,000K</text>
<text x="1815" y="554.1" font-family="Liberation Sans, sans-serif" font-size="12.6" fill="#333333" text-anchor="start" textLength="40.5" lengthAdjust="spacingAndGlyphs">10,000K</text>
<text x="1815" y="522.2" font-family="Liberation Sans, sans-serif" font-size="12.6" fill="#333333" text-anchor="start" textLength="40.5" lengthAdjust="spacingAndGlyphs">15,000K</text>
<text x="1815" y="490.3" font-family="Liberation Sans, sans-serif" font-size="12.6" fill="#333333" text-anchor="start" textLength="40.5" lengthAdjust="spacingAndGlyphs">20,000K</text>
<text x="1808" y="13.4" font-family="Liberation Sans, sans-serif" font-size="12.6" fill="#e6190a" text-anchor="start" textLength="56" lengthAdjust="spacingAndGlyphs">LC:115,54</text>
<text x="1808" y="25.4" font-family="Liberation Sans, sans-serif" font-size="12.6" fill="#145ac8" text-anchor="start" textLength="57" lengthAdjust="spacingAndGlyphs">HC:-55,63</text>
<rect x="1811" y="322" width="55" height="12" fill="#e6190a"/>
<text x="1815" y="332.4" font-family="Liberation Sans, sans-serif" font-size="12.6" fill="#ffffff" text-anchor="start" textLength="33" lengthAdjust="spacingAndGlyphs">49,250</text>
<text x="1815" y="344.2" font-family="Liberation Sans, sans-serif" font-size="12.6" fill="#e6190a" text-anchor="start" textLength="37" lengthAdjust="spacingAndGlyphs">22,21%</text>
<rect x="1811" y="488" width="55" height="12" fill="#e6190a"/>
<text x="1815" y="498.4" font-family="Liberation Sans, sans-serif" font-size="12.6" fill="#ffffff" text-anchor="start" textLength="40.5" lengthAdjust="spacingAndGlyphs">18,800K</text>
<text x="1815" y="510.6" font-family="Liberation Sans, sans-serif" font-size="12.6" fill="#e6190a" text-anchor="start" textLength="43" lengthAdjust="spacingAndGlyphs">157,31%</text>
<rect x="1861" y="473" width="5" height="7" fill="#3a3a3a"/><path d="M1862 478l4-3.5M1862 475l4 3" stroke="#e8e8e8" stroke-width="0.9"/>
<text x="1802" y="312.6" font-family="Liberation Sans, sans-serif" font-size="12.6" fill="#ff0000" text-anchor="end" textLength="33" lengthAdjust="spacingAndGlyphs">51,500</text>
<text x="-1" y="629.6" font-family="Liberation Sans, sans-serif" font-size="12.6" fill="#333333" text-anchor="start" textLength="41" lengthAdjust="spacingAndGlyphs">2021/04</text>
<text x="162" y="629.6" font-family="Liberation Sans, sans-serif" font-size="12.6" fill="#333333" text-anchor="start" textLength="12" lengthAdjust="spacingAndGlyphs">05</text>
<text x="305" y="629.6" font-family="Liberation Sans, sans-serif" font-size="12.6" fill="#333333" text-anchor="start" textLength="12" lengthAdjust="spacingAndGlyphs">06</text>
<text x="470" y="629.6" font-family="Liberation Sans, sans-serif" font-size="12.6" fill="#333333" text-anchor="start" textLength="12" lengthAdjust="spacingAndGlyphs">07</text>
<text x="634" y="629.6" font-family="Liberation Sans, sans-serif" font-size="12.6" fill="#333333" text-anchor="start" textLength="12" lengthAdjust="spacingAndGlyphs">08</text>
<text x="792" y="629.6" font-family="Liberation Sans, sans-serif" font-size="12.6" fill="#333333" text-anchor="start" textLength="12" lengthAdjust="spacingAndGlyphs">09</text>
<text x="934" y="629.6" font-family="Liberation Sans, sans-serif" font-size="12.6" fill="#333333" text-anchor="start" textLength="12" lengthAdjust="spacingAndGlyphs">10</text>
<text x="1076" y="629.6" font-family="Liberation Sans, sans-serif" font-size="12.6" fill="#333333" text-anchor="start" textLength="12" lengthAdjust="spacingAndGlyphs">11</text>
<text x="1241" y="629.6" font-family="Liberation Sans, sans-serif" font-size="12.6" fill="#333333" text-anchor="start" textLength="12" lengthAdjust="spacingAndGlyphs">12</text>
<text x="1406" y="629.6" font-family="Liberation Sans, sans-serif" font-size="12.6" fill="#333333" text-anchor="start" textLength="41" lengthAdjust="spacingAndGlyphs">2022/01</text>
<text x="1556" y="629.6" font-family="Liberation Sans, sans-serif" font-size="12.6" fill="#333333" text-anchor="start" textLength="12" lengthAdjust="spacingAndGlyphs">02</text>
<text x="1691" y="629.6" font-family="Liberation Sans, sans-serif" font-size="12.6" fill="#333333" text-anchor="start" textLength="12" lengthAdjust="spacingAndGlyphs">03</text>
<text x="1815" y="629.6" font-family="Liberation Sans, sans-serif" font-size="12.6" fill="#333333" text-anchor="start" textLength="29" lengthAdjust="spacingAndGlyphs">03/08</text>
<rect x="-0.5" y="7.5" width="4" height="5" fill="#b4b4b4" stroke="#9a9a9a"/>
<rect x="6.5" y="3.5" width="53" height="14" fill="#e9e9e9" stroke="#c6c6c6"/>
<text x="10.5" y="15" font-family="'Liberation Sans', 'Noto Sans CJK KR', sans-serif" font-size="12" fill="#2a2a2a" text-anchor="start" textLength="48" lengthAdjust="spacingAndGlyphs">신풍제약</text>
<rect x="1.5" y="21.5" width="13" height="13" fill="#fff" stroke="#000" stroke-width="1.4"/>
<path d="M3.5 23.5h9v9h-9zM6.5 23.5v9M9.5 23.5v9M3.5 25.5h9M3.5 30.5h9" fill="none" stroke="#8a8a8a" stroke-width="1"/>
<path d="M108 48.4l6-5.8v11.6z" fill="#ff0000"/><rect x="114" y="48" width="8" height="1" fill="#ff0000"/>
<text x="122.8" y="51.6" font-family="'Liberation Sans', 'Noto Sans CJK KR', sans-serif" font-size="12" fill="#ff0000" text-anchor="start" textLength="24" lengthAdjust="spacingAndGlyphs">최고</text>
<text x="150.8" y="52" font-family="Liberation Sans, sans-serif" font-size="12.6" fill="#ff0000" text-anchor="start" textLength="82" lengthAdjust="spacingAndGlyphs">111,000 (04/21)</text>
<text x="1353.2" y="373.8" font-family="'Liberation Sans', 'Noto Sans CJK KR', sans-serif" font-size="12" fill="#333333" text-anchor="start" textLength="36" lengthAdjust="spacingAndGlyphs">배당락</text>
<text x="1389.2" y="374.3" font-family="Liberation Sans, sans-serif" font-size="12.6" fill="#333333" text-anchor="start" textLength="41" lengthAdjust="spacingAndGlyphs">(0,00%)</text>
<path d="M1387 391h11l-5.5 6z" fill="#ff0000"/><rect x="1392" y="377" width="1" height="15" fill="#ff0000"/>
<text x="1399" y="450.2" font-family="'Liberation Sans', 'Noto Sans CJK KR', sans-serif" font-size="12" fill="#0000ff" text-anchor="start" textLength="24" lengthAdjust="spacingAndGlyphs">최저</text>
<text x="1426.5" y="450.6" font-family="Liberation Sans, sans-serif" font-size="12.6" fill="#0000ff" text-anchor="start" textLength="76" lengthAdjust="spacingAndGlyphs">22,850 (01/25)</text>
<rect x="1510" y="447" width="10" height="1" fill="#0000ff"/><path d="M1525.5 447.5l-7-5.2v10.4z" fill="#0000ff"/>
</g>
</svg>
</body></html>
